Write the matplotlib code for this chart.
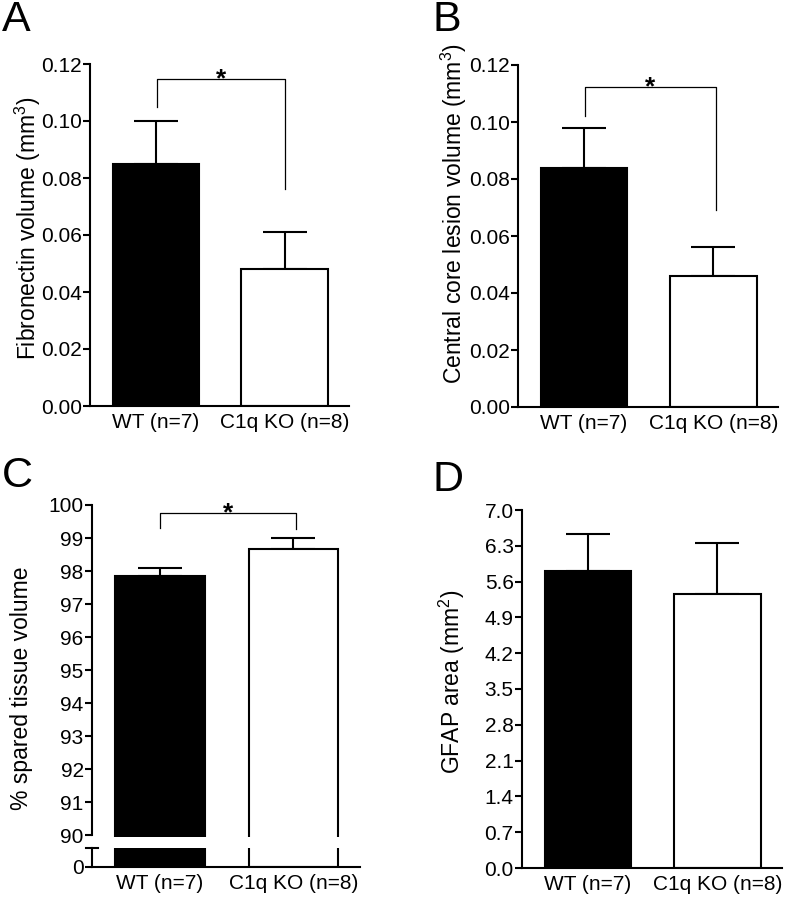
import numpy as np
import matplotlib
matplotlib.use("Agg")
import matplotlib.pyplot as plt

plt.rcParams['font.family'] = ['Liberation Sans', 'DejaVu Sans']
plt.rcParams['mathtext.fontset'] = 'custom'
plt.rcParams['mathtext.rm'] = 'Liberation Sans'
plt.rcParams['mathtext.it'] = 'Liberation Sans'

groups = ['WT (n=7)', 'C1q KO (n=8)']

fibronectin = [0.085, 0.048]
fibronectin_err = [0.015, 0.013]

core_lesion = [0.084, 0.046]
core_lesion_err = [0.014, 0.010]

spared = [97.85, 98.67]
spared_err = [0.24, 0.34]

gfap = [5.81, 5.36]
gfap_err = [0.72, 0.99]

W, H = 794, 899
LW = 1.5
FS = 15
LFS = 16.5


def rect(left, right, bottom, top):
    return [left / W, 1 - bottom / H, (right - left) / W, (bottom - top) / H]


def style(ax):
    for s in ['top', 'right']:
        ax.spines[s].set_visible(False)
    for s in ['left', 'bottom']:
        ax.spines[s].set_linewidth(LW)
    ax.tick_params(axis='y', length=5, width=LW, labelsize=FS, pad=1)
    ax.tick_params(axis='x', length=0, labelsize=FS, pad=5)


def bars(ax, vals, errs, show_err=True):
    x = np.arange(len(vals))
    ax.bar(x, vals, width=0.67, color=['black', 'white'], edgecolor='black',
           linewidth=LW, zorder=2)
    if show_err:
        ax.errorbar(x, vals, yerr=[np.zeros(len(errs)), errs], fmt='none',
                    ecolor='black', elinewidth=LW, capsize=16, capthick=LW, zorder=1)
    ax.set_xlim(-0.51, 1.5)


def bracket(ax, x0, x1, ytop, yl, yr):
    ax.plot([x0, x0, x1, x1], [yl, ytop, ytop, yr], color='black', lw=0.9,
            clip_on=False, zorder=3)
    ax.annotate('*', xy=((x0 + x1) / 2, ytop), xytext=(0, -5),
                textcoords='offset points', ha='center', va='baseline',
                fontsize=19, fontweight='bold', annotation_clip=False)


def ylabel(x, y, text):
    fig.text(x / W, 1 - y / H, text, rotation=90, ha='center', va='center',
             fontsize=LFS)


fig = plt.figure(figsize=(W / 100, H / 100), dpi=100)

# Panel A
axA = fig.add_axes(rect(90, 349, 406, 64))
bars(axA, fibronectin, fibronectin_err)
axA.set_ylim(0, 0.12)
ticksA = np.arange(0, 0.121, 0.02)
axA.set_yticks(ticksA)
axA.set_yticklabels([f'{v:.2f}' for v in ticksA])
axA.set_xticks([0, 1])
axA.set_xticklabels(groups)
style(axA)
bracket(axA, 0.01, 1.0, 0.1147, 0.105, 0.076)
ylabel(28, 228, 'Fibronectin volume (mm$^3$)')

# Panel B
axB = fig.add_axes(rect(518, 778, 407, 65))
bars(axB, core_lesion, core_lesion_err)
axB.set_ylim(0, 0.12)
axB.set_yticks(ticksA)
axB.set_yticklabels([f'{v:.2f}' for v in ticksA])
axB.set_xticks([0, 1])
axB.set_xticklabels(groups)
style(axB)
bracket(axB, 0.01, 1.02, 0.1123, 0.102, 0.069)
ylabel(454, 214, 'Central core lesion volume (mm$^3$)')

# Panel C (broken axis)
axC = fig.add_axes(rect(92, 360, 837, 505))
bars(axC, spared, spared_err)
axC.set_ylim(89.94, 100)
axC.set_yticks(np.arange(90, 101, 1))
axC.set_xticks([])
style(axC)
axC.spines['bottom'].set_visible(False)
axC.spines['left'].set_bounds(90, 100)
bracket(axC, 0.0, 1.02, 99.75, 99.3, 99.28)

axC2 = fig.add_axes(rect(92, 360, 867, 848))
bars(axC2, spared, spared_err, show_err=False)
axC2.set_ylim(0, 1)
axC2.set_yticks([0])
axC2.set_xticks([0, 1])
axC2.set_xticklabels(groups)
style(axC2)
axC2.plot([-0.555, -0.465], [1, 1], color='black', lw=LW, clip_on=False)
ylabel(22, 688, '% spared tissue volume')

# Panel D
axD = fig.add_axes(rect(522, 782, 868, 510))
bars(axD, gfap, gfap_err)
axD.set_ylim(0, 7.0)
ticksD = np.arange(0, 7.01, 0.7)
axD.set_yticks(ticksD)
axD.set_yticklabels([f'{v:.1f}' for v in ticksD])
axD.set_xticks([0, 1])
axD.set_xticklabels(groups)
style(axD)
ylabel(452, 682, 'GFAP area (mm$^2$)')

# Panel letters
for letter, x, y in [('A', 2, 0), ('B', 433, 0), ('C', 2, 456), ('D', 433, 460)]:
    fig.text(x / W, 1 - y / H, letter, fontsize=31, ha='left', va='top')

fig.savefig('out.png', dpi=100)
